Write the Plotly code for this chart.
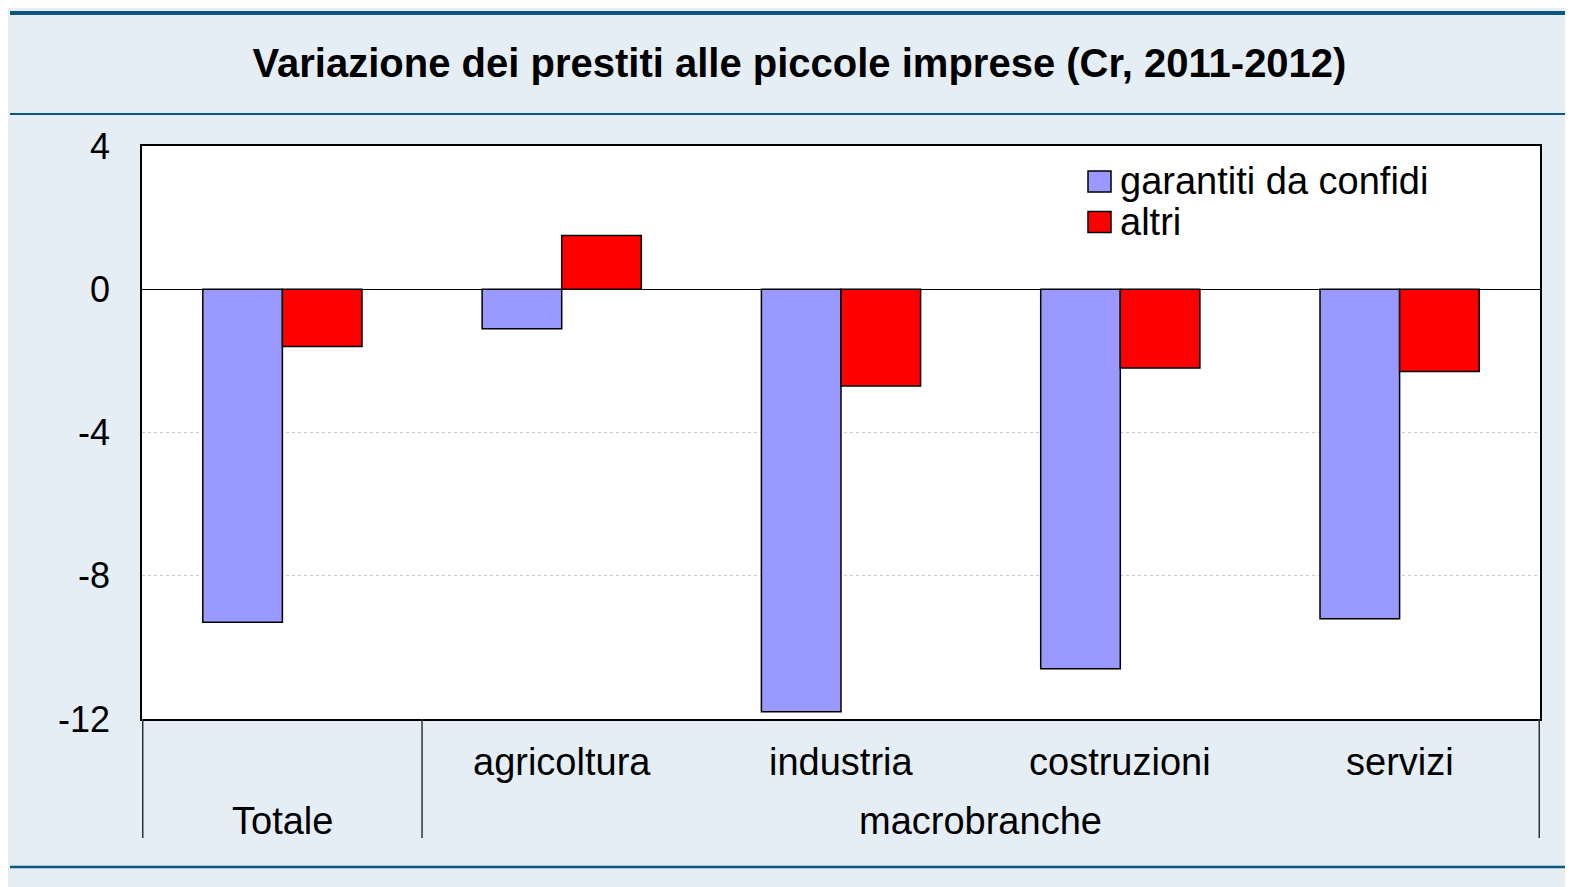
import plotly.graph_objects as go

# ---- data ----
categories = ["Totale", "agricoltura", "industria", "costruzioni", "servizi"]
garantiti = [-9.3, -1.1, -11.8, -10.6, -9.2]
altri = [-1.6, 1.5, -2.7, -2.2, -2.3]
series_names = ["garantiti da confidi", "altri"]
group_labels = ["Totale", "macrobranche"]
y_ticks = [4, 0, -4, -8, -12]
title_text = "Variazione dei prestiti alle piccole imprese (Cr, 2011-2012)"

# ---- style ----
OFF = 8  # page body margin; screen px -> figure px
W, H = 1573, 887
L, R, T, B = 142 - OFF, W - (1540 - OFF), 146 - OFF, H - (719 - OFF)
PW, PH = W - L - R, H - T - B
BG = "#E6EEF5"
LINE = "#0A587F"
C1, C2 = "#9999FF", "#FF0000"
FONT = "Liberation Sans, Arial, sans-serif"

def px_x(px):
    """screen x -> paper x"""
    return (px - OFF - L) / PW

def px_y(py):
    """screen y -> paper y"""
    return (H - B - (py - OFF)) / PH

fig = go.Figure()
fig.add_trace(go.Bar(x=categories, y=garantiti, name=series_names[0],
                     marker=dict(color=C1, line=dict(color="black", width=1.5)),
                     showlegend=False))
fig.add_trace(go.Bar(x=categories, y=altri, name=series_names[1],
                     marker=dict(color=C2, line=dict(color="black", width=1.5)),
                     showlegend=False))

shapes = []
# horizontal rules
shapes.append(dict(type="line", xref="paper", yref="paper", x0=px_x(10), x1=px_x(W + 20),
                   y0=px_y(13), y1=px_y(13), line=dict(color=LINE, width=4)))
shapes.append(dict(type="line", xref="paper", yref="paper", x0=px_x(10), x1=px_x(W + 20),
                   y0=px_y(114), y1=px_y(114), line=dict(color=LINE, width=2)))
shapes.append(dict(type="line", xref="paper", yref="paper", x0=px_x(10), x1=px_x(W + 20),
                   y0=px_y(867), y1=px_y(867), line=dict(color=LINE, width=2.5)))
# category group dividers below the axis
for xv in [-0.5, 0.5, len(categories) - 0.5]:
    shapes.append(dict(type="line", xref="x", yref="paper", x0=xv, x1=xv,
                       y0=0, y1=px_y(838), line=dict(color="#333333", width=1.5)))

LBL = 38
annotations = []
# sub-category labels
for c in categories[1:]:
    annotations.append(dict(x=c, xref="x", y=px_y(762), yref="paper", text=c,
                            showarrow=False, xanchor="center", yanchor="middle",
                            font=dict(size=LBL, color="black", family=FONT)))
# group labels
annotations.append(dict(x=0, xref="x", y=px_y(821), yref="paper", text=group_labels[0],
                        showarrow=False, xanchor="center", yanchor="middle",
                        font=dict(size=LBL, color="black", family=FONT)))
annotations.append(dict(x=(0.5 + len(categories) - 0.5) / 2, xref="x", y=px_y(821), yref="paper",
                        text=group_labels[1], showarrow=False, xanchor="center", yanchor="middle",
                        font=dict(size=LBL, color="black", family=FONT)))
# legend (custom, large swatches)
for name, col, cy in [(series_names[0], C1, 181.5), (series_names[1], C2, 222)]:
    shapes.append(dict(type="rect", xref="paper", yref="paper",
                       x0=px_x(1088), x1=px_x(1111), y0=px_y(cy + 10.5), y1=px_y(cy - 10.5),
                       fillcolor=col, line=dict(color="black", width=1.5)))
    annotations.append(dict(x=px_x(1118), xref="paper", y=px_y(cy), yref="paper", text=name,
                            showarrow=False, xanchor="left", yanchor="middle",
                            font=dict(size=LBL, color="black", family=FONT)))

fig.update_layout(
    width=W, height=H,
    margin=dict(l=L, r=R, t=T, b=B),
    paper_bgcolor=BG, plot_bgcolor="white",
    barmode="group", bargap=0.43, bargroupgap=0,
    title=dict(text="<b>" + title_text + "</b>", x=(799.5 - OFF) / W, xref="container",
               xanchor="center", y=1 - (63 - OFF) / H, yref="container", yanchor="middle",
               font=dict(size=40, color="black", family=FONT)),
    shapes=shapes, annotations=annotations,
    showlegend=False,
)
fig.update_xaxes(showticklabels=False, showline=True, linecolor="black", linewidth=1.5,
                 mirror=True, showgrid=False, ticks="")
fig.update_yaxes(range=[-12, 4], tickvals=y_ticks, ticktext=[str(v) for v in y_ticks],
                 showline=True, linecolor="black", linewidth=1.5, mirror=True,
                 showgrid=True, gridcolor="#C8C8C8", griddash="dot", gridwidth=1,
                 zeroline=True, zerolinecolor="black", zerolinewidth=1,
                 ticks="outside", ticklen=23, tickcolor="rgba(0,0,0,0)",
                 tickfont=dict(size=36, color="black", family=FONT))

fig.write_html("out.html")
